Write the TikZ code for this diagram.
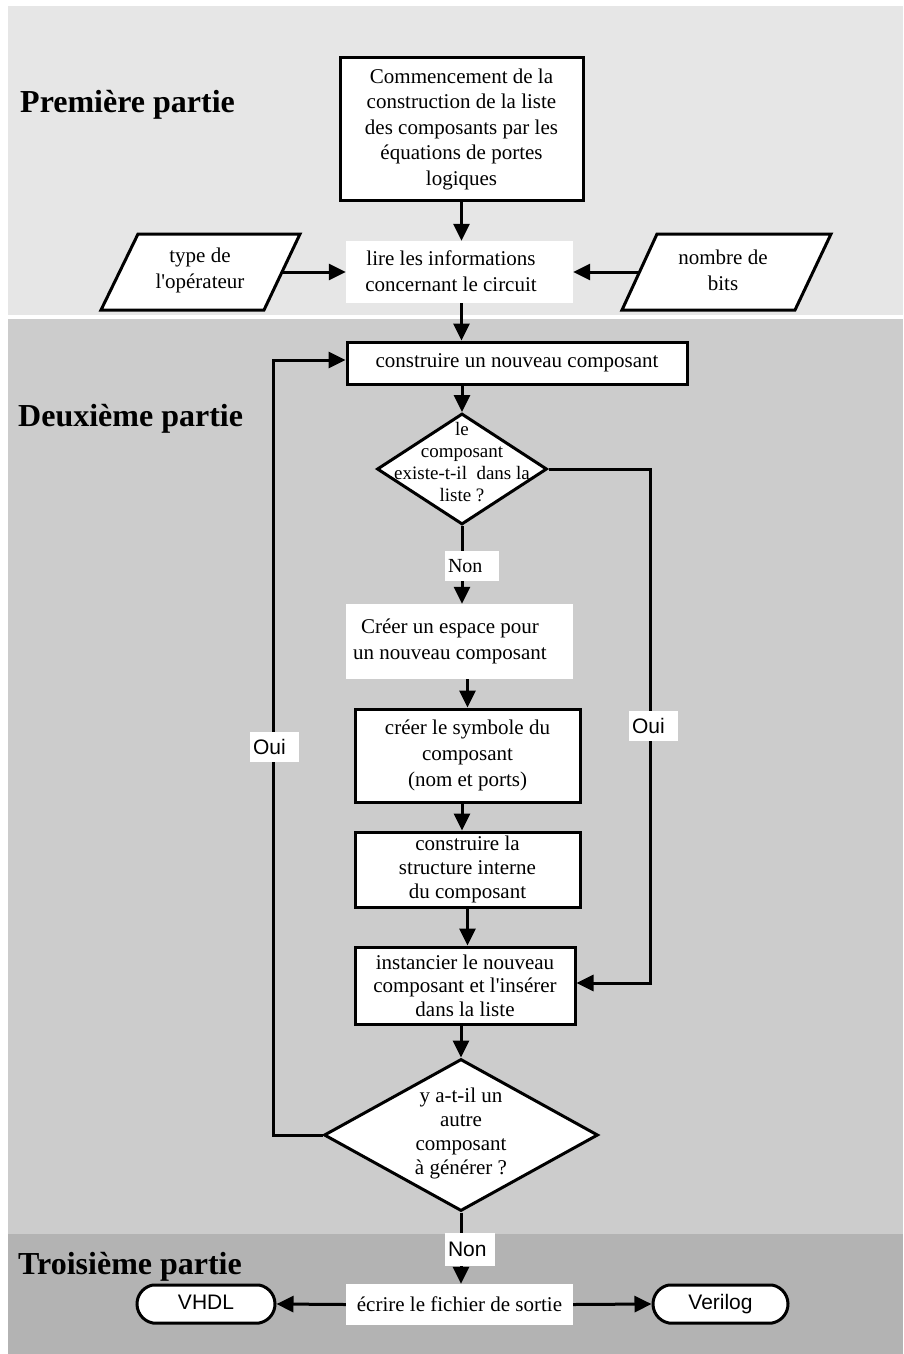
\documentclass[tikz,border=0pt]{standalone}
\usepackage{fontspec}
\setmainfont{Liberation Serif}[Ligatures=TeXOff]
\setsansfont{Liberation Sans}[Ligatures=TeXOff]
\usetikzlibrary{arrows.meta,shapes.geometric,shapes.misc}
\definecolor{cone}{gray}{0.902}
\definecolor{ctwo}{gray}{0.8}
\definecolor{cthree}{gray}{0.702}
\begin{document}
\begin{tikzpicture}[x=1pt,y=-1pt,
  txt/.style={inner sep=0pt, align=center, font=\fontsize{21}{25}\selectfont},
  box/.style={draw, line width=3pt, fill=white, inner sep=0pt, align=center, font=\fontsize{21}{24}\selectfont},
  wbox/.style={fill=white, inner sep=0pt, align=center, font=\fontsize{21}{25}\selectfont},
  dia/.style={shape=diamond, draw, line width=3pt, fill=white, inner sep=0pt},
  term/.style={shape=rounded rectangle, rounded rectangle arc length=160, draw, line width=3pt, fill=white, inner sep=0pt, text height=15pt, text depth=4pt, font=\sffamily\fontsize{21}{25}\selectfont},
  lbl/.style={fill=white, inner ysep=0pt, inner xsep=3pt, align=left},
  bline/.style={line width=3pt},
  arr/.style={line width=3pt, -{Triangle[length=17pt,width=16pt]}},
  ttl/.style={inner sep=0pt, font=\bfseries\fontsize{32}{36}\selectfont}
]
\useasboundingbox (0,0) rectangle (903,1354);
% backgrounds
\fill[white] (0,0) rectangle (903,1354);
\fill[cone] (8,6) rectangle (903,315);
\fill[ctwo] (8,319) rectangle (903,1234);
\fill[cthree] (8,1234) rectangle (903,1354);

% titles
\node[ttl, anchor=base west] (t1) at (20,112) {Première partie};
\node[ttl, anchor=base west] (t2) at (18,426) {Deuxième partie};
\node[ttl, anchor=base west] (t3) at (18,1274) {Troisième partie};

% part 1
\node[box, minimum width=243, minimum height=142, font=\fontsize{21}{25.5}\selectfont] (start) at (461.5,129)
  {Commencement de la\\construction de la liste\\des composants par les\\équations de portes\\logiques};
\node[wbox, minimum width=227, minimum height=62] (lire) at (459.5,272) {};
\node[txt, font=\fontsize{21}{26}\selectfont] (liret) at (451,271) {lire les informations\\concernant le circuit};

\draw[bline, fill=white] (138,234) -- (300,234) -- (264,310) -- (101,310) -- cycle;
\node[txt, font=\fontsize{21}{26}\selectfont] (typ) at (200,270) {type de\\l'opérateur};
\coordinate (typE) at (282,272);
\draw[bline, fill=white] (657,234) -- (831,234) -- (795,310) -- (622,310) -- cycle;
\node[txt, font=\fontsize{21}{26}\selectfont] (nb) at (723,270) {nombre de\\bits};
\coordinate (nbW) at (640,272);

\draw[arr] (start.south) -- (start.south |- lire.north);
\draw[arr] (typE) -- (lire.west);
\draw[arr] (nbW) -- (lire.east);

% part 2
\node[box, minimum width=340, minimum height=42] (cons) at (517,363) {construire un nouveau composant};
\draw[arr] (lire.south -| start.south) -- (cons.north -| start.south);

\node[dia, minimum width=170, minimum height=111] (d1) at (462,469) {};
\node[txt, font=\fontsize{19}{22}\selectfont] (d1t) at (462,462) {le\\composant\\existe-t-il\ \ dans la\\liste ?};
\draw[arr] (cons.south -| d1.north) -- (d1.north);

\node[wbox, minimum width=227, minimum height=75] (creer) at (459.5,641.5) {};
\node[txt, font=\fontsize{21}{26}\selectfont] (creert) at (450,641) {Créer un espace pour\\un nouveau composant};
\draw[arr] (d1.south) -- (d1.south |- creer.north);
\node[lbl, text width=48, minimum height=30, font=\fontsize{20}{24}\selectfont] (non1) at (472,566) {Non};

\node[box, minimum width=225, minimum height=93, font=\fontsize{21}{26}\selectfont] (sym) at (467.5,755.5) {créer le symbole du\\composant\\(nom et ports)};
\draw[arr] (creer.south -| sym.north) -- (sym.north);

\node[box, minimum width=225, minimum height=75] (cons2) at (467.5,869.5) {construire la\\structure interne\\du composant};
\draw[arr] (sym.south -| d1.south) -- (cons2.north -| d1.south);

\node[box, minimum width=220, minimum height=77, font=\fontsize{21}{23.5}\selectfont] (inst) at (465,985.5) {instancier le nouveau\\composant et l'insérer\\dans la liste};
\draw[arr] (cons2.south) -- (cons2.south |- inst.north);

\node[dia, minimum width=274, minimum height=152] (d2) at (461,1135) {};
\node[txt, font=\fontsize{21}{24}\selectfont] (d2t) at (461,1133) {y a-t-il un\\autre\\composant\\à générer ?};
\draw[arr] (inst.south -| d2.north) -- (d2.north);

% loops
\coordinate (rc) at (650,983);
\draw[arr] (d1.east) -| (rc) -- (rc -| inst.east);
\node[lbl, text width=43, minimum height=30, font=\sffamily\fontsize{21}{25}\selectfont] (oui1) at (653.5,726) {Oui};

\coordinate (lc) at (273,360);
\draw[arr] (d2.west) -| (lc) -- (lc -| cons.west);
\node[lbl, text width=43, minimum height=30, font=\sffamily\fontsize{21}{25}\selectfont] (oui2) at (274.5,747) {Oui};

% part 3
\node[wbox, minimum width=227, minimum height=41] (ecr) at (459.5,1304.5) {écrire le fichier de sortie};
\draw[arr] (d2.south) -- (d2.south |- ecr.north);
\node[lbl, text width=44, minimum height=33, font=\sffamily\fontsize{21}{25}\selectfont] (non2) at (470,1249.5) {Non};

\node[term, minimum width=138, minimum height=38] (vhdl) at (206,1304) {VHDL};
\node[term, minimum width=135, minimum height=38] (veri) at (720.5,1304) {Verilog};
\draw[arr] (ecr.west) -- (vhdl.east);
\draw[arr] (ecr.east) -- (veri.west);
\end{tikzpicture}
\end{document}
